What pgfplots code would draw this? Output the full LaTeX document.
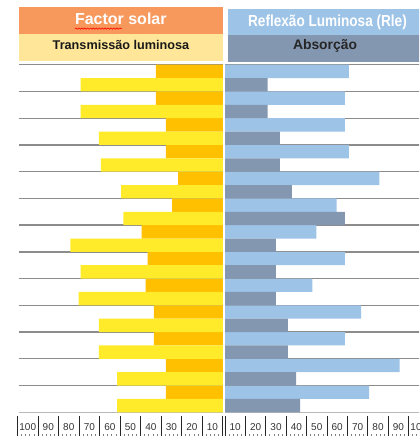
\documentclass[border=0pt]{standalone}
\usepackage{pgfplots}
\usepackage{pgfplotstable}
\pgfplotsset{compat=1.18}
\usepackage{fontspec}
\setmainfont{Liberation Sans}
\usetikzlibrary{decorations.pathmorphing}

\definecolor{fsorange}{HTML}{FFC000}
\definecolor{tlyellow}{HTML}{FFEB29}
\definecolor{rlblue}{HTML}{9DC3E6}
\definecolor{absgrey}{HTML}{8497B0}
\definecolor{hdorange}{HTML}{F7985C}
\definecolor{hdyellow}{HTML}{FFE699}
\definecolor{gridgrey}{HTML}{8C8C8C}

% fs = factor solar, tl = transmissao luminosa,
% rl = reflexao luminosa, ab = absorcao
\pgfplotstableread{
row fs tl rl ab
1  33 70 61 21
2  33 70 59 21
3  28 61 59 27
4  28 60 61 27
5  22 50 76 33
6  25 49 55 59
7  40 75 45 25
8  37 70 59 25
9  38 71 43 25
10 34 61 67 31
11 34 61 59 31
12 28 52 86 35
13 28 52 71 37
}\glassdata

\pgfplotsset{
  panel/.style={
    scale only axis,
    height=260.7pt,
    xmin=0, xmax=100,
    ymin=0.5, ymax=13.5,
    y dir=reverse,
    xbar,
    bar width=0.5,
    axis line style={draw=none},
    xtick=\empty,
    ytick={0.5,1.5,...,12.5},
    yticklabels={},
    major tick length=0,
    ymajorgrids,
    grid style={gridgrey, line width=1pt},
    extra y ticks={13.5},
    extra y tick labels={},
    extra y tick style={grid style={gray!55, line width=0.7pt}},
  },
  ruler/.style={
    scale only axis,
    height=15pt,
    xmin=0, xmax=100,
    ymin=0, ymax=1,
    axis line style={draw=none},
    ytick=\empty,
    xtick={0,10,...,100},
    xticklabels={},
    major tick length=0,
    xmajorgrids,
    grid style={black!85, line width=0.75pt},
    minor x tick num=4,
    minor tick length=1.6pt,
    minor tick style={gray, line width=0.6pt},
    xtick pos=bottom,
    extra x ticks={5,15,...,95},
    extra x tick labels={10,20,30,40,50,60,70,80,90,100},
    extra x tick style={grid=none, major tick length=0,
      tick label style={anchor=center, yshift=6.5pt,
        font=\fontsize{7.5}{8}\selectfont, text=black!80}},
  },
}

\begin{document}
\begin{tikzpicture}
\useasboundingbox (0,0) rectangle (314.25pt,327pt);
\clip (0,0) rectangle (314.25pt,327pt);

% left panel
\begin{axis}[panel, at={(14.625pt,17.775pt)}, anchor=south west,
  width=152.6pt, x dir=reverse]
  \addplot[fill=fsorange, draw=none, bar shift=-0.25] table[x=fs, y=row] {\glassdata};
  \addplot[fill=tlyellow, draw=none, bar shift=0.25] table[x=tl, y=row] {\glassdata};
\end{axis}

% right panel
\begin{axis}[panel, at={(168.75pt,17.775pt)}, anchor=south west,
  width=152.25pt]
  \addplot[fill=rlblue, draw=none, bar shift=-0.25] table[x=rl, y=row] {\glassdata};
  \addplot[fill=absgrey, draw=none, bar shift=0.25] table[x=ab, y=row] {\glassdata};
\end{axis}

% rulers
\begin{axis}[ruler, at={(13.125pt,0pt)}, anchor=south west,
  width=153.9pt, x dir=reverse]
\end{axis}
\begin{axis}[ruler, at={(168.75pt,0pt)}, anchor=south west,
  width=153pt]
\end{axis}

% headers
\begin{scope}[x=0.75pt, y=-0.75pt, yshift=327pt]
  \fill[hdorange] (19,7.3) rectangle (222.7,33.7);
  \fill[hdyellow] (19,33.7) rectangle (222.7,60.7);
  \fill[rlblue] (228,9) rectangle (425,35);
  \fill[absgrey] (228,35) rectangle (425,62);
  \node[anchor=base, text=white, inner sep=0pt,
    font=\fontsize{12}{14}\selectfont\bfseries] at (120.8,25) {Factor solar};
  \draw[red, line width=0.45pt, decorate,
    decoration={snake, amplitude=0.5pt, segment length=2.2pt}] (75,28.6) -- (122,28.6);
  \node[anchor=base, text=black!90, inner sep=0pt,
    font=\fontsize{9.5}{11}\selectfont\bfseries] at (121,49.3) {Transmissão luminosa};
  \node[anchor=base, text=white, inner sep=0pt,
    font=\fontsize{12}{14}\selectfont\bfseries] at (327.5,26.7)
    {\scalebox{0.85}[1]{Reflexão Luminosa (Rle)}};
  \node[anchor=base, text=black!85, inner sep=0pt,
    font=\fontsize{10.4}{12}\selectfont\bfseries] at (325,50) {Absorção};
\end{scope}
\end{tikzpicture}
\end{document}
